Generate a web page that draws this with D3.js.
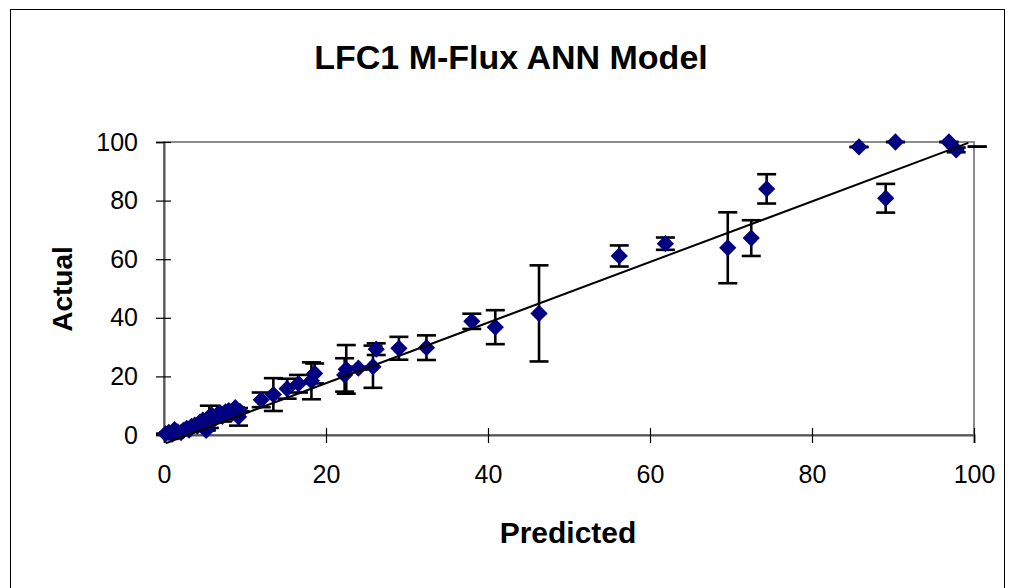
<!DOCTYPE html>
<html lang="en">
<head>
<meta charset="UTF-8">
<title>LFC1 M-Flux ANN Model</title>
<script src="https://d3js.org/d3.v7.min.js"></script>
<style>
    body { margin: 0; background: #fff; }
    svg text { font-family: "Liberation Sans", Arial, sans-serif; fill: #000; }
</style>
</head>
<body>
<svg id="chart" width="1011" height="588"></svg>
<script>
// predicted vs actual, with error bar half-widths
const predicted = [0.2, 0.6, 1.0, 1.3, 1.7, 2.1, 2.4, 2.8, 3.1, 3.4, 3.8, 4.1, 4.4, 4.8, 5.1, 5.2,
    5.6, 5.9, 6.2, 6.6, 6.9, 7.2, 7.6, 8.0, 8.4, 8.8, 9.2, 9.4,
    12.0, 13.5, 15.2, 16.6, 18.2, 18.6, 22.3, 22.5, 24.0, 25.8, 26.2, 29.0, 32.4,
    38.0, 40.9, 46.3, 56.2, 61.9, 69.6, 72.5, 74.4, 85.8, 89.1, 90.3, 96.9, 97.8, 100.4];
const actual = [0.4, 0.9, 0.3, 1.8, 1.1, 0.8, 1.6, 2.3, 1.7, 2.9, 3.4, 3.0, 4.3, 5.1, 4.4, 1.6,
    6.2, 6.8, 5.4, 7.0, 7.6, 6.4, 7.9, 8.3, 7.4, 9.3, 6.2, 8.0,
    12.0, 13.8, 15.8, 17.5, 18.5, 21.0, 20.5, 22.4, 22.8, 23.3, 29.3, 29.6, 29.8,
    38.8, 36.8, 41.5, 61.1, 65.3, 63.9, 67.2, 84.0, 98.3, 80.8, 100, 100, 97.3, 98.4];
const errors = [0, 0, 0, 0, 0, 0, 0, 0, 0, 0, 0, 0, 0, 0, 0, 0,
    3.8, 0, 0, 0, 0, 1.8, 0, 0, 0, 0, 3.0, 0,
    2.5, 5.6, 3.4, 3.0, 6.3, 3.4, 5.7, 8.3, 0.5, 7.2, 2.0, 3.9, 4.2,
    2.6, 5.8, 16.4, 3.6, 2.1, 12.1, 6.1, 5.0, 0, 4.9, 0, 0, 0.8, 0];

// linear trendline end points
const trendX = [0.2, 99.3];
const trendY = [-2.8, 99.7];

const xTicks = [0, 20, 40, 60, 80, 100];
const yTicks = [0, 20, 40, 60, 80, 100];

const svg = d3.select("#chart");
const plot = { left: 164, right: 974, top: 142, bottom: 435 };

const x = d3.scaleLinear().domain([0, 100]).range([plot.left, plot.right]);
const y = d3.scaleLinear().domain([0, 100]).range([plot.bottom, plot.top]);

const points = predicted.map((p, i) => ({ p: p, a: actual[i], e: errors[i] }));

// outer chart border
svg.append("rect")
    .attr("x", 10.5).attr("y", 9.5)
    .attr("width", 994).attr("height", 600)
    .attr("fill", "none").attr("stroke", "#000").attr("stroke-width", 1);

// plot area border
svg.append("rect")
    .attr("x", plot.left).attr("y", plot.top)
    .attr("width", plot.right - plot.left).attr("height", plot.bottom - plot.top)
    .attr("fill", "none").attr("stroke", "#8c8c8c").attr("stroke-width", 2);

// axes
const xAxis = svg.append("g")
    .attr("transform", `translate(0,${plot.bottom})`)
    .call(d3.axisBottom(x).tickValues(xTicks).tickSize(8).tickPadding(22));
const yAxis = svg.append("g")
    .attr("transform", `translate(${plot.left},0)`)
    .call(d3.axisLeft(y).tickValues(yTicks).tickSize(8).tickPadding(18));

[xAxis, yAxis].forEach(g => {
    g.select(".domain").attr("stroke", "#555").attr("stroke-width", 2);
    g.selectAll(".tick line").attr("stroke", "#000").attr("stroke-width", 1.2);
    g.selectAll(".tick text").attr("font-size", 25).attr("font-family", "Liberation Sans, Arial, sans-serif");
});
// ticks cross the axis line
xAxis.selectAll(".tick line").attr("y1", -7).attr("y2", 8);
yAxis.selectAll(".tick line").attr("x1", 7).attr("x2", -8);
xAxis.selectAll(".tick text").attr("dy", "0.71em");

// error bars
const cap = 9.5;
const bars = svg.append("g").attr("stroke", "#000").attr("stroke-width", 2.6).attr("fill", "none");
points.forEach(d => {
    const cx = x(d.p);
    bars.append("line").attr("x1", cx).attr("x2", cx).attr("y1", y(d.a - d.e)).attr("y2", y(d.a + d.e));
    bars.append("line").attr("x1", cx - cap).attr("x2", cx + cap).attr("y1", y(d.a + d.e)).attr("y2", y(d.a + d.e));
    bars.append("line").attr("x1", cx - cap).attr("x2", cx + cap).attr("y1", y(d.a - d.e)).attr("y2", y(d.a - d.e));
});

// diamond markers (points beyond the axis max are not drawn)
const diamond = d3.symbol().type(d3.symbolDiamond2).size(190);
svg.append("g").selectAll("path")
    .data(points.filter(d => d.p <= 100))
    .enter().append("path")
    .attr("d", diamond)
    .attr("transform", d => `translate(${x(d.p)},${y(d.a)})`)
    .attr("fill", "#000080");

// trendline
svg.append("line")
    .attr("x1", x(trendX[0])).attr("y1", y(trendY[0]))
    .attr("x2", x(trendX[1])).attr("y2", y(trendY[1]))
    .attr("stroke", "#000").attr("stroke-width", 2);

// titles
svg.append("text")
    .attr("x", 511).attr("y", 69)
    .attr("text-anchor", "middle")
    .attr("font-size", 34).attr("font-weight", "bold")
    .text("LFC1 M-Flux ANN Model");

svg.append("text")
    .attr("x", 568).attr("y", 543)
    .attr("text-anchor", "middle")
    .attr("font-size", 30).attr("font-weight", "bold")
    .text("Predicted");

svg.append("text")
    .attr("transform", "translate(72,289) rotate(-90)")
    .attr("text-anchor", "middle")
    .attr("font-size", 28).attr("font-weight", "bold")
    .text("Actual");
</script>
</body>
</html>
